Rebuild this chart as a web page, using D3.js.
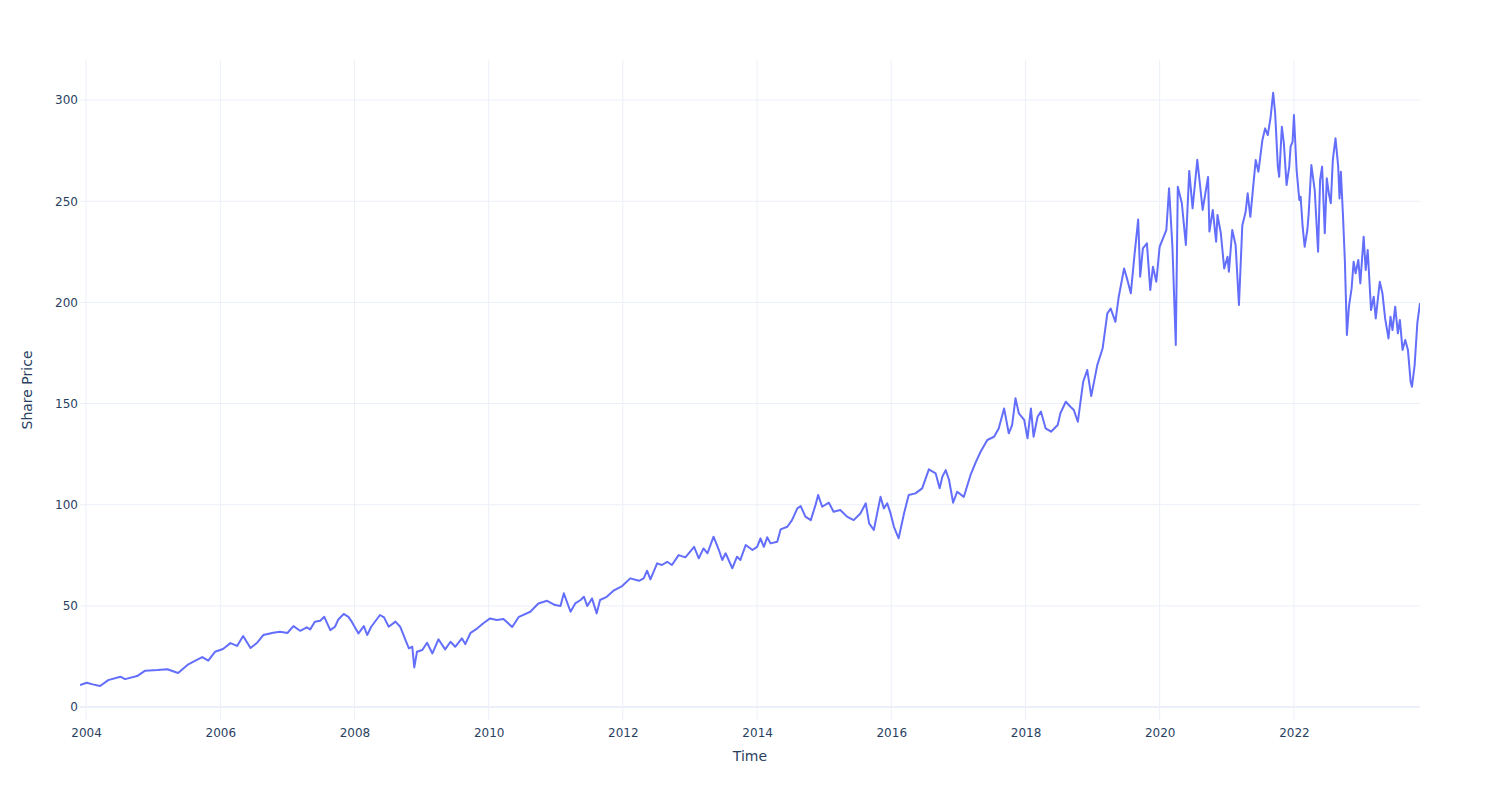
<!DOCTYPE html>
<html>
<head>
<meta charset="utf-8">
<script src="https://cdn.jsdelivr.net/npm/d3@7"></script>
<style>
  html, body { margin: 0; padding: 0; background: #fff; }
  svg { display: block; }
  text { font-family: "DejaVu Sans", verdana, arial, sans-serif; fill: #2a3f5f; }
</style>
</head>
<body>
<svg id="chart" width="1500" height="800"></svg>
<script>
// Time as decimal years
const times = [
  2003.91, 2004.01, 2004.10, 2004.21, 2004.33, 2004.51, 2004.58, 2004.76, 2004.88, 2005.06,
  2005.21, 2005.37, 2005.51, 2005.60, 2005.73, 2005.82, 2005.92, 2006.04, 2006.15, 2006.25,
  2006.34, 2006.45, 2006.55, 2006.64, 2006.79, 2006.89, 2007.00, 2007.09, 2007.19, 2007.29,
  2007.34, 2007.41, 2007.49, 2007.55, 2007.64, 2007.71, 2007.76, 2007.84, 2007.91, 2007.96,
  2008.06, 2008.14, 2008.19, 2008.25, 2008.38, 2008.44, 2008.51, 2008.61, 2008.68, 2008.76,
  2008.81, 2008.86, 2008.89, 2008.93, 2009.01, 2009.08, 2009.16, 2009.25, 2009.35, 2009.43,
  2009.50, 2009.60, 2009.65, 2009.73, 2009.83, 2009.92, 2010.02, 2010.12, 2010.22, 2010.35,
  2010.45, 2010.62, 2010.74, 2010.87, 2010.99, 2011.07, 2011.12, 2011.22, 2011.29, 2011.37,
  2011.42, 2011.47, 2011.54, 2011.61, 2011.66, 2011.76, 2011.86, 2011.99, 2012.11, 2012.24,
  2012.31, 2012.36, 2012.41, 2012.51, 2012.58, 2012.66, 2012.73, 2012.83, 2012.93, 2013.06,
  2013.13, 2013.20, 2013.26, 2013.35, 2013.43, 2013.48, 2013.53, 2013.63, 2013.70, 2013.75,
  2013.83, 2013.93, 2014.00, 2014.05, 2014.10, 2014.15, 2014.20, 2014.30, 2014.35, 2014.45,
  2014.52, 2014.60, 2014.65, 2014.72, 2014.80, 2014.87, 2014.91, 2014.97, 2015.07, 2015.14,
  2015.24, 2015.34, 2015.44, 2015.54, 2015.62, 2015.67, 2015.74, 2015.84, 2015.89, 2015.94,
  2015.99, 2016.04, 2016.11, 2016.19, 2016.26, 2016.36, 2016.46, 2016.56, 2016.66, 2016.72,
  2016.76, 2016.81, 2016.86, 2016.92, 2016.98, 2017.08, 2017.18, 2017.26, 2017.33, 2017.43,
  2017.53, 2017.60, 2017.68, 2017.75, 2017.80, 2017.85, 2017.90, 2017.98, 2018.03, 2018.08,
  2018.12, 2018.18, 2018.23, 2018.30, 2018.38, 2018.48, 2018.52, 2018.60, 2018.67, 2018.72,
  2018.78, 2018.82, 2018.86, 2018.92, 2018.98, 2019.07, 2019.15, 2019.22, 2019.27, 2019.34,
  2019.39, 2019.47, 2019.52, 2019.57, 2019.62, 2019.68, 2019.71, 2019.75, 2019.81, 2019.86,
  2019.90, 2019.95, 2020.00, 2020.05, 2020.10, 2020.14, 2020.19, 2020.24, 2020.27, 2020.33,
  2020.39, 2020.44, 2020.49, 2020.56, 2020.64, 2020.72, 2020.74, 2020.79, 2020.84, 2020.86,
  2020.91, 2020.96, 2021.01, 2021.03, 2021.08, 2021.13, 2021.18, 2021.23, 2021.28, 2021.31,
  2021.35, 2021.43, 2021.47, 2021.53, 2021.57, 2021.61, 2021.65, 2021.69, 2021.72, 2021.76,
  2021.78, 2021.82, 2021.85, 2021.89, 2021.93, 2021.95, 2021.98, 2022.00, 2022.04, 2022.08,
  2022.10, 2022.13, 2022.16, 2022.20, 2022.22, 2022.26, 2022.31, 2022.36, 2022.39, 2022.42,
  2022.46, 2022.49, 2022.52, 2022.55, 2022.58, 2022.62, 2022.66, 2022.68, 2022.70, 2022.73,
  2022.76, 2022.79, 2022.82, 2022.86, 2022.89, 2022.92, 2022.96, 2022.99, 2023.04, 2023.07,
  2023.10, 2023.15, 2023.19, 2023.22, 2023.28, 2023.32, 2023.36, 2023.41, 2023.44, 2023.47,
  2023.51, 2023.55, 2023.58, 2023.62, 2023.66, 2023.70, 2023.74, 2023.76, 2023.80, 2023.84,
  2023.88
];
const prices = [
  10.9, 12.0, 11.2, 10.4, 13.3, 15.0, 13.8, 15.3, 18.0, 18.3,
  18.7, 16.8, 20.8, 22.4, 24.7, 22.9, 27.3, 28.7, 31.6, 30.2,
  35.1, 29.2, 31.8, 35.6, 36.7, 37.2, 36.6, 40.0, 37.7, 39.4,
  38.4, 42.2, 42.7, 44.6, 38.0, 39.7, 43.3, 46.0, 44.6, 42.2,
  36.4, 40.0, 35.6, 39.7, 45.5, 44.3, 39.7, 42.2, 39.7, 33.1,
  29.0, 29.8, 19.6, 27.3, 28.2, 31.8, 26.5, 33.5, 28.5, 32.3,
  29.8, 34.0, 31.1, 36.7, 38.9, 41.4, 43.8, 43.0, 43.5, 39.6,
  44.6, 47.1, 51.2, 52.5, 50.4, 49.9, 56.2, 47.1, 51.2, 52.9,
  54.5, 49.9, 53.7, 46.3, 52.9, 54.5, 57.5, 59.8, 63.6, 62.4,
  63.6, 67.4, 63.1, 71.0, 70.2, 71.8, 70.2, 75.1, 74.0, 79.2,
  73.5, 78.4, 76.0, 84.2, 77.6, 72.7, 76.0, 68.6, 74.3, 72.7,
  80.1, 77.6, 79.2, 83.4, 79.2, 83.9, 80.9, 81.7, 87.8, 89.1,
  92.4, 98.2, 99.3, 94.1, 92.4, 99.8, 104.8, 99.0, 101.0, 96.5,
  97.4, 94.1, 92.4, 95.7, 100.7, 90.8, 87.5, 103.9, 98.2, 100.7,
  95.7, 89.1, 83.4, 95.7, 104.8, 105.6, 108.1, 117.5, 115.5, 108.1,
  113.8, 117.1, 112.2, 101.0, 106.4, 103.9, 114.7, 121.2, 126.2, 132.0,
  133.6, 137.7, 147.6, 135.3, 139.4, 152.6, 145.2, 141.9, 132.8, 147.6,
  133.6, 143.5, 146.0, 137.7, 136.1, 139.4, 145.2, 150.9, 148.4, 146.8,
  141.0, 150.9, 160.8, 166.6, 153.7, 169.0, 177.3, 194.6, 197.0, 190.4,
  202.8, 216.8, 211.0, 204.5, 221.8, 241.0, 212.7, 226.7, 229.2, 206.1,
  217.6, 210.2, 227.5, 231.6, 235.8, 256.4, 227.5, 178.9, 257.2, 249.0,
  228.4, 265.0, 246.5, 270.5, 245.7, 262.0, 235.0, 245.7, 230.0, 243.2,
  234.2, 216.8, 222.6, 215.2, 235.8, 228.4, 198.7, 238.0, 244.8, 253.9,
  242.3, 270.4, 264.6, 280.3, 286.0, 282.7, 291.0, 303.6, 293.4, 267.1,
  262.1, 286.8, 278.6, 258.0, 267.1, 277.0, 279.4, 292.6, 265.4, 250.6,
  252.2, 237.4, 227.5, 235.8, 244.0, 267.9, 255.5, 225.0, 260.5, 267.1,
  234.2, 261.3, 253.9, 249.0, 270.4, 281.1, 267.1, 251.4, 264.6, 244.0,
  220.1, 183.9, 197.9, 206.9, 220.1, 214.4, 221.0, 209.4, 232.5, 216.0,
  225.9, 196.2, 202.8, 192.1, 210.2, 204.5, 192.1, 182.2, 192.9, 186.3,
  197.9, 184.7, 191.3, 176.5, 181.4, 176.5, 160.8, 158.3, 169.0, 189.7,
  199.6
];
const xTickYears = [2004, 2006, 2008, 2010, 2012, 2014, 2016, 2018, 2020, 2022];
const yTicks = [0, 50, 100, 150, 200, 250, 300];
const yRange = [-6.4, 319.8];

function toDate(y) {
  const yr = Math.floor(y);
  const s = Date.UTC(yr, 0, 1), e = Date.UTC(yr + 1, 0, 1);
  return new Date(s + (y - yr) * (e - s));
}
const data = times.map((t, i) => ({ date: toDate(t), value: prices[i] }));

const W = 1500, H = 800;
const m = { l: 80, r: 80, t: 60, b: 80 };
const svg = d3.select("#chart");

const x = d3.scaleUtc()
  .domain(d3.extent(data, d => d.date))
  .range([m.l, W - m.r]);
const y = d3.scaleLinear()
  .domain(yRange)
  .range([H - m.b, m.t]);

const grid = svg.append("g");
// vertical grid
grid.selectAll("line.vx").data(xTickYears).join("line")
  .attr("x1", d => x(toDate(d))).attr("x2", d => x(toDate(d)))
  .attr("y1", m.t).attr("y2", H - m.b)
  .attr("stroke", "#EBF0F8").attr("stroke-width", 1);
// horizontal grid
grid.selectAll("line.hy").data(yTicks.filter(d => d !== 0)).join("line")
  .attr("x1", m.l).attr("x2", W - m.r)
  .attr("y1", d => y(d)).attr("y2", d => y(d))
  .attr("stroke", "#EBF0F8").attr("stroke-width", 1);
// zero line
grid.append("line")
  .attr("x1", m.l).attr("x2", W - m.r)
  .attr("y1", y(0)).attr("y2", y(0))
  .attr("stroke", "#EBF0F8").attr("stroke-width", 2);

// axes via d3
const xAxis = d3.axisBottom(x)
  .tickValues(xTickYears.map(toDate))
  .tickFormat(d3.utcFormat("%Y"))
  .tickSize(0).tickPadding(8);
const gx = svg.append("g").attr("transform", `translate(0,${H - m.b})`).call(xAxis);
gx.select(".domain").remove();
gx.selectAll("text").attr("font-size", 12).attr("fill", "#2a3f5f")
  .attr("font-family", "DejaVu Sans, verdana, arial, sans-serif");

const yAxis = d3.axisLeft(y).tickValues(yTicks).tickSize(0).tickPadding(2);
const gy = svg.append("g").attr("transform", `translate(${m.l},0)`).call(yAxis);
gy.select(".domain").remove();
gy.selectAll("text").attr("font-size", 12).attr("fill", "#2a3f5f")
  .attr("font-family", "DejaVu Sans, verdana, arial, sans-serif");

// clip
svg.append("clipPath").attr("id", "clip").append("rect")
  .attr("x", m.l).attr("y", m.t).attr("width", W - m.l - m.r).attr("height", H - m.t - m.b);

const line = d3.line().x(d => x(d.date)).y(d => y(d.value));
svg.append("path").datum(data)
  .attr("clip-path", "url(#clip)")
  .attr("fill", "none")
  .attr("stroke", "#636efa")
  .attr("stroke-width", 2)
  .attr("stroke-linejoin", "round")
  .attr("d", line);

// axis titles
svg.append("text")
  .attr("x", (m.l + W - m.r) / 2).attr("y", 761)
  .attr("text-anchor", "middle").attr("font-size", 14)
  .text("Time");
svg.append("text")
  .attr("transform", `translate(32,${(m.t + H - m.b) / 2}) rotate(-90)`)
  .attr("text-anchor", "middle").attr("font-size", 14)
  .text("Share Price");
</script>
</body>
</html>
